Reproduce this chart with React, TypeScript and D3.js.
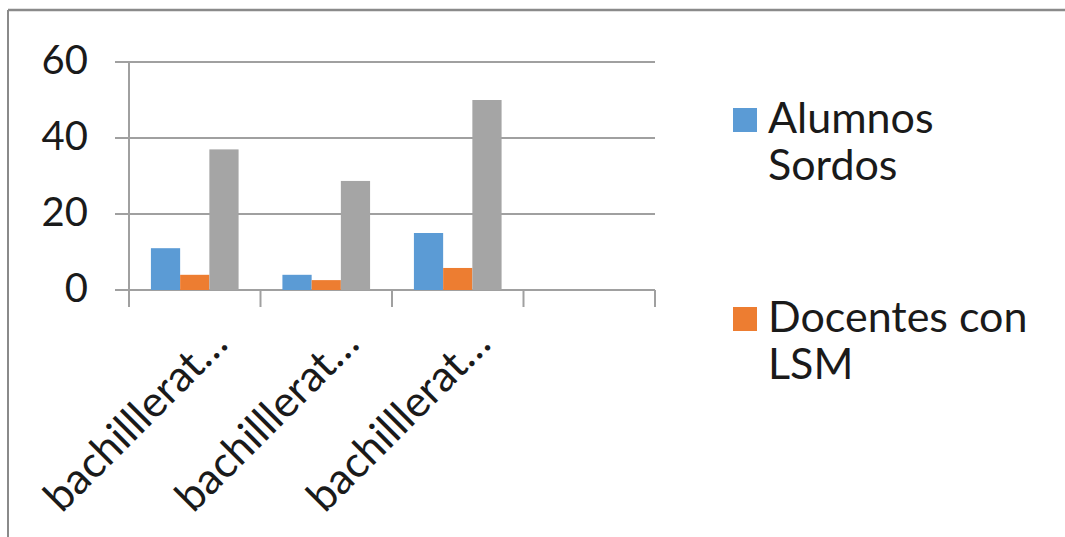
import React from "react";
import * as d3 from "d3";

const categories = ["bachilllerat…", "bachilllerat…", "bachilllerat…", ""];
const seriesNames = ["Alumnos Sordos", "Docentes con LSM", "Serie 3"];
const alumnosSordos = [11, 4, 15, 0];
const docentesLSM = [4, 2.6, 5.8, 0];
const serie3 = [37, 28.7, 50, 0];
const yTicks = [0, 20, 40, 60];
const colors = ["#5B9BD5", "#ED7D31", "#A5A5A5"];
const legendLines = [["Alumnos", "Sordos"], ["Docentes con", "LSM"]];

const W = 1065;
const H = 537;
const FONT = "Lato, 'Open Sans', sans-serif";
const FS = 43;
const FS_Y = 40;
const AXIS = "#a0a0a0";

export default function App() {
  const series = [alumnosSordos, docentesLSM, serie3];
  const x = d3.scaleBand<string>().domain(categories.map((_, i) => String(i))).range([129, 655]).paddingInner(0).paddingOuter(0);
  const xs = d3.scaleBand<string>().domain(seriesNames).range([0, x.bandwidth()]).paddingInner(0).paddingOuter(0.75);
  const y = d3.scaleLinear().domain([0, 60]).range([290, 62]);
  const bw = x.bandwidth();

  return (
    <div style={{ position: "fixed", left: 0, top: 0, width: W, height: H, background: "#fff" }}>
      <svg width={W} height={H} style={{ display: "block" }}>
        <rect x={0} y={0} width={W} height={H} fill="#fff" />
        {/* outer chart border */}
        <line x1={8} y1={10} x2={W} y2={10} stroke="#8a8a8a" strokeWidth={2.5} />
        <line x1={8} y1={10} x2={8} y2={H} stroke="#8a8a8a" strokeWidth={2} />

        {/* gridlines */}
        {yTicks.map((t) => (
          <line key={"g" + t} x1={115} x2={655} y1={y(t)} y2={y(t)} stroke={AXIS} strokeWidth={2} />
        ))}
        {/* y axis */}
        <line x1={129} x2={129} y1={y(60)} y2={y(0) + 17} stroke={AXIS} strokeWidth={2} />
        {/* x ticks */}
        {categories.map((_, i) => (
          <line key={"xt" + i} x1={(x(String(i)) as number) + bw} x2={(x(String(i)) as number) + bw} y1={y(0)} y2={y(0) + 17} stroke={AXIS} strokeWidth={2} />
        ))}

        {/* bars */}
        {series.map((vals, si) =>
          vals.map((v, ci) =>
            v > 0 ? (
              <rect
                key={"b" + si + "-" + ci}
                x={(x(String(ci)) as number) + (xs(seriesNames[si]) as number)}
                y={y(v)}
                width={xs.bandwidth()}
                height={y(0) - y(v)}
                fill={colors[si]}
              />
            ) : null
          )
        )}

        {/* y tick labels */}
        {yTicks.map((t) => (
          <text key={"yl" + t} x={88} y={y(t) - 2} dy="0.35em" textAnchor="end" fontFamily={FONT} fontSize={FS_Y} fill="#1a1a1a">
            {t}
          </text>
        ))}

        {/* x labels */}
        {categories.map((c, i) => {
          const cx = (x(String(i)) as number) + bw / 2 + 35;
          const cy = 346;
          return (
            <text key={"xl" + i} transform={`translate(${cx},${cy}) rotate(-45)`} textAnchor="end" fontFamily={FONT} fontSize={FS} fill="#1a1a1a">
              {c}
            </text>
          );
        })}

        {/* legend */}
        {legendLines.map((lines, li) => {
          const top = li === 0 ? 108 : 307;
          return (
            <g key={"lg" + li}>
              <rect x={733} y={top} width={24} height={24} fill={colors[li]} />
              {lines.map((ln, k) => (
                <text key={k} x={768} y={top + 25 + k * 47} fontFamily={FONT} fontSize={FS} fill="#1a1a1a">
                  {ln}
                </text>
              ))}
            </g>
          );
        })}
      </svg>
    </div>
  );
}
